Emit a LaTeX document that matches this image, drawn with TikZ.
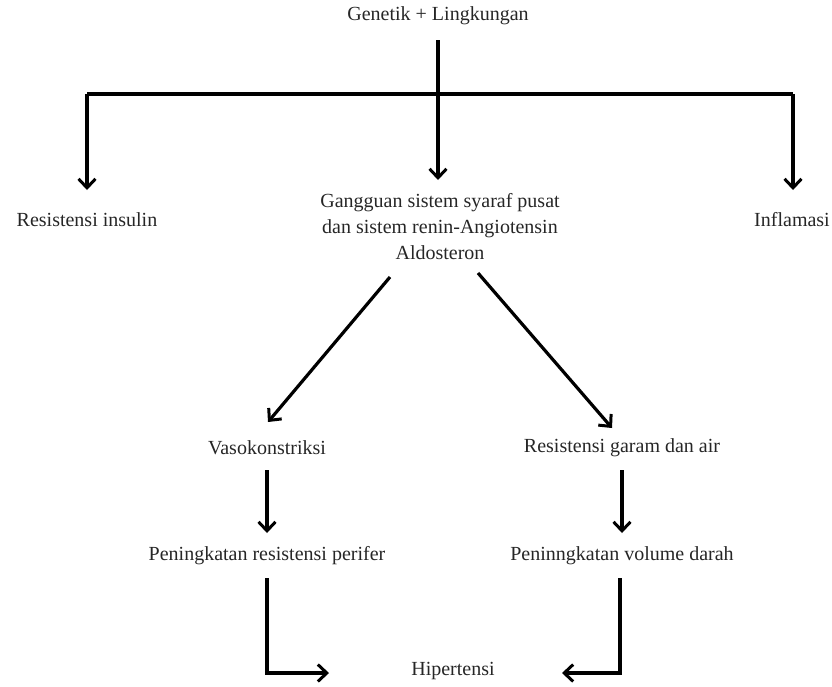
\documentclass[tikz,border=0pt]{standalone}
\usepackage{fontspec}
\setmainfont{Liberation Serif}
\usetikzlibrary{arrows.meta}
\begin{document}
\begin{tikzpicture}[x=1pt,y=-1pt,
  lbl/.style={font=\fontsize{20}{26}\selectfont, text=black!85, inner sep=1pt, align=center},
  conn/.style={line width=3.2pt, black},
  arr/.style={conn, -{Straight Barb[length=9pt,width=17pt,line width=3pt]}}]
\useasboundingbox (0,0) rectangle (832,686);
\node[lbl] (gen) at (438,16) {Genetik + Lingkungan};
\node[lbl] (ri) at (87,220) {Resistensi insulin};
\node[lbl] (inf) at (792,220) {Inflamasi};
\node[lbl] (gg) at (440,227) {Gangguan sistem syaraf pusat\\dan sistem renin-Angiotensin\\Aldosteron};
\node[lbl] (vaso) at (267,448) {Vasokonstriksi};
\node[lbl] (rga) at (622,448) {Resistensi garam dan air};
\node[lbl] (prp) at (267,556) {Peningkatan resistensi perifer};
\node[lbl] (pvd) at (622,556) {Peninngkatan volume darah};
\node[lbl] (hip) at (453,671) {Hipertensi};
\coordinate (top) at (438,40);
\coordinate (bl) at (87,94);
\coordinate (br) at (793,94);
\coordinate (ril) at (87,190);
\coordinate (infl) at (793,190);
\coordinate (ggt) at (438,180);
\draw[conn] (bl) -- (br);
\draw[arr] (top) -- (ggt);
\draw[arr] (bl) -- (ril);
\draw[arr] (br) -- (infl);
\coordinate (d1s) at (390,277);
\coordinate (d1e) at (268,422);
\coordinate (d2s) at (478,273);
\coordinate (d2e) at (612,428);
\draw[arr] (d1s) -- (d1e);
\draw[arr] (d2s) -- (d2e);
\coordinate (v1s) at (267,470);
\coordinate (v1e) at (267,533);
\coordinate (v2s) at (622,470);
\coordinate (v2e) at (622,533);
\draw[arr] (v1s) -- (v1e);
\draw[arr] (v2s) -- (v2e);
\coordinate (b1s) at (267,578);
\coordinate (b1c) at (267,673);
\coordinate (b1e) at (329,673);
\coordinate (b2s) at (620,578);
\coordinate (b2c) at (620,673);
\coordinate (b2e) at (562,673);
\draw[arr] (b1s) -- (b1c) -- (b1e);
\draw[arr] (b2s) -- (b2c) -- (b2e);
\end{tikzpicture}
\end{document}
